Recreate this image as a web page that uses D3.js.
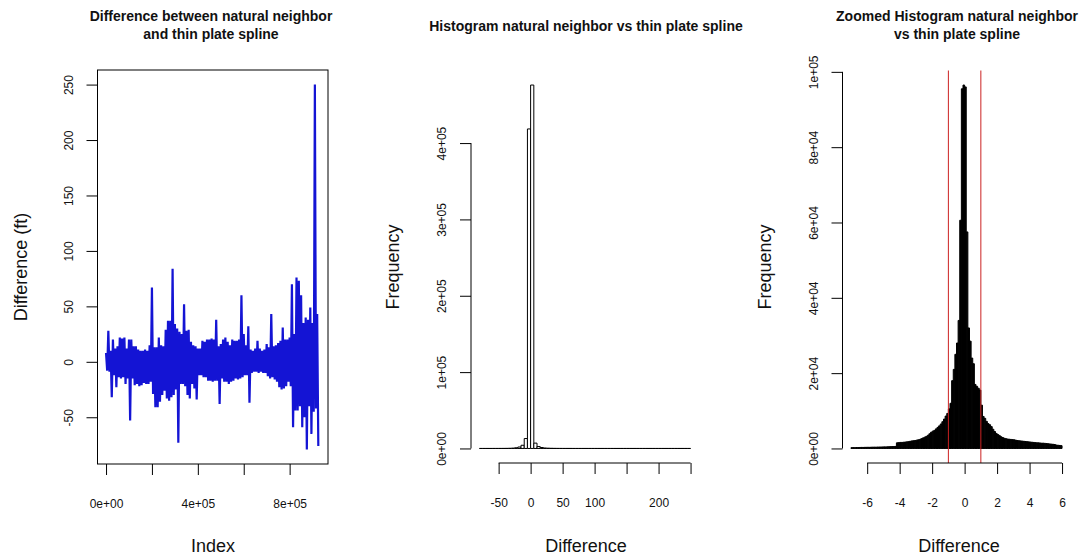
<!DOCTYPE html>
<html>
<head>
<meta charset="utf-8">
<script src="https://cdn.jsdelivr.net/npm/d3@7"></script>
<style>
  body { margin: 0; background: #fff; }
  svg { display: block; font-family: "Liberation Sans", Arial, Helvetica, sans-serif; }
  .tick-label { font-size: 12px; fill: #111; }
  .main-title { font-size: 14px; font-weight: bold; fill: #111; }
  .axis-title { font-size: 18px; fill: #111; }
</style>
</head>
<body>
<svg id="chart" width="1089" height="560"></svg>
<script>
// ---------------------------------------------------------------
// Data
// ---------------------------------------------------------------

// Difference (ft) per index block: upper and lower extremes of each block
const diffBinSize = 10000;
const diffHigh = [
  8, 28, 10, 20, 12, 14, 22, 21, 22, 12,
  20, 20, 14, 14, 11, 10, 10, 11, 10, 15,
  67, 13, 13, 22, 15, 14, 29, 37, 37, 84,
  34, 30, 27, 25, 52, 28, 29, 18, 15, 14,
  12, 12, 19, 18, 20, 20, 21, 20, 38, 14,
  16, 20, 22, 18, 15, 20, 19, 19, 20, 60,
  25, 15, 32, 11, 10, 12, 19, 12, 10, 11,
  16, 13, 43, 14, 15, 17, 19, 31, 20, 20,
  22, 70, 25, 76, 73, 60, 35, 40, 38, 49,
  35, 250, 43
];
const diffLow = [
  -8, -9, -32, -12, -23, -14, -15, -14, -20, -15,
  -53, -15, -21, -20, -22, -21, -19, -20, -20, -18,
  -29, -41, -41, -36, -30, -26, -33, -35, -32, -30,
  -25, -73, -20, -20, -22, -30, -33, -20, -24, -34,
  -12, -12, -14, -14, -17, -17, -18, -17, -17, -38,
  -15, -18, -18, -20, -18, -17, -15, -16, -15, -14,
  -12, -12, -37, -10, -9, -9, -10, -9, -10, -10,
  -13, -15, -14, -16, -18, -23, -25, -24, -22, -18,
  -22, -59, -44, -44, -40, -59, -50, -79, -40, -65,
  -45, -42, -76
];

// Full histogram: bins of width 5 starting at -80
const histStart = -80;
const histBinWidth = 5;
const histCounts = [
  3, 4, 6, 9, 14, 22, 35, 60, 110, 210,
  420, 900, 1900, 4200, 13000, 418500, 476000, 7000, 2500, 1200,
  600, 320, 180, 110, 70, 46, 30, 21, 15, 11,
  8, 6, 5, 4, 3, 3, 2, 2, 2, 1,
  1, 1, 1, 1, 0, 1, 0, 0, 1, 0,
  0, 0, 0, 0, 0, 0, 0, 0, 0, 0,
  0, 0, 0, 0, 0, 1
];

// Zoomed histogram: bins of width 0.1 starting at -7
const zoomStart = -7;
const zoomBinWidth = 0.1;
const zoomCounts = [
  210, 230, 220, 250, 240, 260, 280, 270, 290, 300,
  310, 300, 330, 340, 350, 340, 370, 380, 390, 400,
  420, 410, 440, 460, 480, 500, 520, 540,
  1500, 1550, 1600, 1600, 1650, 1700, 1750, 1800, 1900, 2000,
  2050, 2100, 2200, 2300, 2400, 2600, 2800, 3000, 3200, 3500,
  3900, 4300, 4600, 4800, 5200, 5600, 6000, 6500, 7100, 7800,
  8600, 9300, 10500,
  12000, 18000, 21000, 25000, 28000, 34000, 60600, 95500, 96500,
  96000, 57500, 32000, 28500, 24000, 22500, 17000, 16500, 16000, 15500,
  11500, 8500, 8000, 7200, 6600, 6300, 5800, 5100, 4500, 4000,
  3700, 3400, 3100, 2900, 2700, 2600, 2500, 2450, 2400, 2350,
  2300, 2200, 2100, 2050, 2000, 1950, 1900, 1850, 1800, 1750,
  1700, 1650, 1600, 1550, 1500, 1500, 1450, 1400, 1400, 1350,
  1300, 1250, 1200, 1150, 1100, 1050, 900, 850, 800, 750
];
const zoomMarkers = [-1, 1];

// Axis ticks and labels
const indexTicks = [0, 200000, 400000, 600000, 800000];
const indexTickLabels = ["0e+00", "", "4e+05", "", "8e+05"];
const diffTicks = [-50, 0, 50, 100, 150, 200, 250];
const diffTickLabels = ["-50", "0", "50", "100", "150", "200", "250"];
const histXTicks = [-50, 0, 50, 100, 150, 200, 250];
const histXTickLabels = ["-50", "0", "50", "100", "", "200", ""];
const histYTicks = [0, 100000, 200000, 300000, 400000];
const histYTickLabels = ["0e+00", "1e+05", "2e+05", "3e+05", "4e+05"];
const zoomXTicks = [-6, -4, -2, 0, 2, 4, 6];
const zoomXTickLabels = ["-6", "-4", "-2", "0", "2", "4", "6"];
const zoomYTicks = [0, 20000, 40000, 60000, 80000, 100000];
const zoomYTickLabels = ["0e+00", "2e+04", "4e+04", "6e+04", "8e+04", "1e+05"];

// ---------------------------------------------------------------
// Helpers
// ---------------------------------------------------------------
const svg = d3.select("#chart");

// base-graphics style 4% padding of a data range
function padded([a, b]) {
  const d = (b - a) * 0.04;
  return [a - d, b + d];
}

function bottomAxis(scale, ticks, labels, y, withLine) {
  const axis = d3.axisBottom(scale)
    .tickValues(ticks)
    .tickFormat((d, i) => labels[i])
    .tickSize(11)
    .tickSizeOuter(0);
  const g = svg.append("g").attr("transform", `translate(0,${y})`).call(axis);
  g.attr("font-family", null).attr("font-size", null);
  g.select(".domain").remove();
  g.selectAll(".tick line").attr("stroke", "#000");
  if (withLine) {
    g.append("line")
      .attr("x1", scale(ticks[0])).attr("x2", scale(ticks[ticks.length - 1]))
      .attr("stroke", "#000");
  }
  g.selectAll(".tick text")
    .attr("class", "tick-label")
    .attr("y", 44).attr("dy", null);
  return g;
}

function leftAxis(scale, ticks, labels, x, withLine) {
  const axis = d3.axisLeft(scale)
    .tickValues(ticks)
    .tickFormat((d, i) => labels[i])
    .tickSize(11)
    .tickSizeOuter(0);
  const g = svg.append("g").attr("transform", `translate(${x},0)`).call(axis);
  g.attr("font-family", null).attr("font-size", null);
  g.select(".domain").remove();
  g.selectAll(".tick line").attr("stroke", "#000");
  if (withLine) {
    g.append("line")
      .attr("y1", scale(ticks[0])).attr("y2", scale(ticks[ticks.length - 1]))
      .attr("stroke", "#000");
  }
  g.selectAll(".tick text")
    .attr("class", "tick-label")
    .attr("x", null).attr("dy", null)
    .attr("text-anchor", "middle")
    .attr("transform", "translate(-25,0) rotate(-90)");
  return g;
}

function titleLines(lines, cx, firstBaseline) {
  const t = svg.append("text").attr("class", "main-title").attr("text-anchor", "middle");
  lines.forEach((s, i) => {
    t.append("tspan").attr("x", cx).attr("y", firstBaseline + i * 18).text(s);
  });
}

function xTitle(text, cx) {
  svg.append("text").attr("class", "axis-title")
    .attr("text-anchor", "middle").attr("x", cx).attr("y", 552).text(text);
}

function yTitle(text, bx, cy) {
  svg.append("text").attr("class", "axis-title")
    .attr("text-anchor", "middle")
    .attr("transform", `translate(${bx},${cy}) rotate(-90)`).text(text);
}

function histPath(x, y, lo, hi, count) {
  const p = d3.path();
  p.moveTo(x(lo), y(0));
  p.lineTo(x(lo), y(count));
  p.lineTo(x(hi), y(count));
  p.lineTo(x(hi), y(0));
  p.closePath();
  return p.toString();
}

// ---------------------------------------------------------------
// Panel 1: difference by index
// ---------------------------------------------------------------
const nPoints = diffHigh.length * diffBinSize;
const x1 = d3.scaleLinear().domain(padded([0, nPoints])).range([97.5, 328]);
const y1 = d3.scaleLinear().domain(padded([d3.min(diffLow), d3.max(diffHigh)])).range([464, 70]);

// each block is traced as its high point followed by its low point
const diffPoints = [];
diffHigh.forEach((h, k) => {
  diffPoints.push([k * diffBinSize, h]);
  diffPoints.push([k * diffBinSize + diffBinSize / 2, diffLow[k]]);
});

svg.append("path")
  .datum(diffPoints)
  .attr("fill", "none")
  .attr("stroke", "#1414d4")
  .attr("stroke-width", 2.2)
  .attr("stroke-linejoin", "bevel")
  .attr("d", d3.line().x(d => x1(d[0])).y(d => y1(d[1])));

svg.append("rect")
  .attr("x", x1.range()[0]).attr("y", y1.range()[1])
  .attr("width", x1.range()[1] - x1.range()[0])
  .attr("height", y1.range()[0] - y1.range()[1])
  .attr("fill", "none").attr("stroke", "#000");

bottomAxis(x1, indexTicks, indexTickLabels, y1.range()[0], false);
leftAxis(y1, diffTicks, diffTickLabels, x1.range()[0], false);
titleLines(["Difference between natural neighbor", "and thin plate spline"], 211, 21);
xTitle("Index", 213);
yTitle("Difference (ft)", 27, 267);

// ---------------------------------------------------------------
// Panel 2: full histogram
// ---------------------------------------------------------------
const histEnd = histStart + histCounts.length * histBinWidth;
const x2 = d3.scaleLinear().domain(padded([histStart, histEnd])).range([471, 699]);
const y2 = d3.scaleLinear().domain(padded([0, d3.max(histCounts)])).range([463, 70.5]);

svg.append("g").selectAll("path")
  .data(histCounts)
  .join("path")
  .attr("d", (c, i) => histPath(x2, y2, histStart + i * histBinWidth, histStart + (i + 1) * histBinWidth, c))
  .attr("fill", "#fff")
  .attr("stroke", "#000")
  .attr("stroke-width", 1);

bottomAxis(x2, histXTicks, histXTickLabels, y2.range()[0], true);
leftAxis(y2, histYTicks, histYTickLabels, x2.range()[0], true);
titleLines(["Histogram natural neighbor vs thin plate spline"], 586, 31);
xTitle("Difference", 586);
yTitle("Frequency", 399, 267);

// ---------------------------------------------------------------
// Panel 3: zoomed histogram with +/-1 ft markers
// ---------------------------------------------------------------
const zoomEnd = zoomStart + zoomCounts.length * zoomBinWidth;
const x3 = d3.scaleLinear().domain(padded([zoomStart, zoomEnd])).range([842.5, 1070.5]);
const y3 = d3.scaleLinear().domain(padded([0, d3.max(zoomCounts)])).range([463, 70.5]);

svg.append("g").selectAll("path")
  .data(zoomCounts)
  .join("path")
  .attr("d", (c, i) => histPath(x3, y3, zoomStart + i * zoomBinWidth, zoomStart + (i + 1) * zoomBinWidth, c))
  .attr("fill", "#000")
  .attr("stroke", "#000")
  .attr("stroke-width", 1);

svg.append("g").selectAll("line")
  .data(zoomMarkers)
  .join("line")
  .attr("x1", d => x3(d)).attr("x2", d => x3(d))
  .attr("y1", y3.range()[1]).attr("y2", y3.range()[0])
  .attr("stroke", "#cc2222")
  .attr("stroke-width", 1);

bottomAxis(x3, zoomXTicks, zoomXTickLabels, y3.range()[0], true);
leftAxis(y3, zoomYTicks, zoomYTickLabels, x3.range()[0], true);
titleLines(["Zoomed Histogram natural neighbor", "vs thin plate spline"], 957, 21);
xTitle("Difference", 959);
yTitle("Frequency", 771, 267);
</script>
</body>
</html>
